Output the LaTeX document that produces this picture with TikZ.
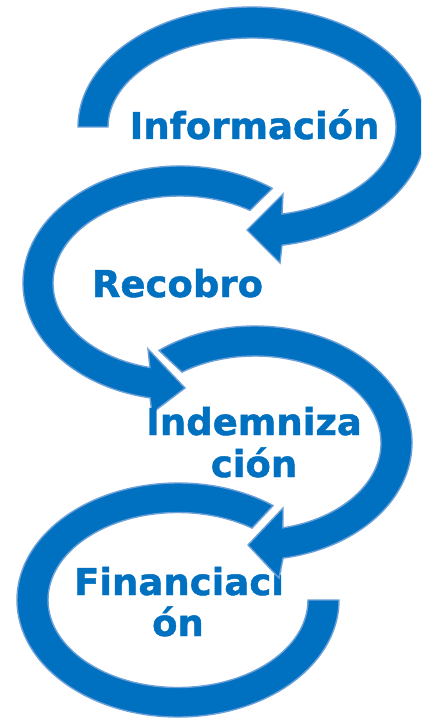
\documentclass[tikz,border=0pt]{standalone}
\usepackage{fontspec}
\setmainfont{DejaVu Sans}
\newfontfamily\lblfont{DejaVu Sans Bold}[FakeBold=1.2]
\usetikzlibrary{calc}
\definecolor{ringblue}{HTML}{0070C0}
\definecolor{ringedge}{HTML}{6A9FD8}
\tikzset{
  ring/.style={fill=ringblue, draw=ringedge, line width=1.4pt, line join=miter},
  lbl/.style={text=ringblue, font=\lblfont\fontsize{37}{42}\selectfont, inner sep=0pt, anchor=base}
}
\begin{document}
\begin{tikzpicture}[x=1pt,y=1pt]
\useasboundingbox (0,0) rectangle (421,-719);
\clip (0,0) rectangle (421,-719);
\fill[white] (0,0) rectangle (421,-719);

% centres of the four rings
\coordinate (c1) at (252,-127);
\coordinate (c2) at (180,-283);
\coordinate (c3) at (255,-443);
\coordinate (c4) at (178,-600);

% ring 4 (Financiacion) - no arrow head
\path[ring] ($(c4)+(53.8:161pt and 117pt)$)
  arc[start angle=53.8, end angle=360, x radius=161pt, y radius=117pt]
  -- ($(c4)+(0:130pt and 87.5pt)$)
  arc[start angle=360, end angle=55.3, x radius=130pt, y radius=87.5pt]
  -- cycle;
\node[lbl] (fin1) at (179,-595) {Financiaci};
\node[lbl] (fin2) at (178,-636) {ón};

% ring 3 (Indemnizacion)
\coordinate (b3o) at (279,-578);
\coordinate (t3) at (248,-545);
\coordinate (b3i) at (283,-508);
\path[ring] ($(c3)+(127.7:157pt and 117pt)$)
  arc[start angle=127.7, end angle=-79.7, x radius=157pt, y radius=117pt]
  -- (b3o) -- (t3) -- (b3i)
  -- ($(c3)+(-77.2:126pt and 87pt)$)
  arc[start angle=-77.2, end angle=125.4, x radius=126pt, y radius=87pt]
  -- cycle;

% ring 2 (Recobro)
\coordinate (b2o) at (152,-413);
\coordinate (t2) at (185,-388);
\coordinate (b2i) at (148,-349);
\path[ring] ($(c2)+(54:157pt and 117pt)$)
  arc[start angle=54, end angle=259, x radius=157pt, y radius=117pt]
  -- (b2o) -- (t2) -- (b2i)
  -- ($(c2)+(256.3:127pt and 87pt)$)
  arc[start angle=256.3, end angle=56.6, x radius=127pt, y radius=87pt]
  -- cycle;

% ring 1 (Informacion)
\coordinate (b1o) at (280,-263);
\coordinate (t1) at (247,-230);
\coordinate (b1i) at (283,-194);
\path[ring] ($(c1)+(180:174pt and 120pt)$)
  arc[start angle=180, end angle=-80.07, x radius=174pt, y radius=120pt]
  -- (b1o) -- (t1) -- (b1i)
  -- ($(c1)+(-77.98:144pt and 89pt)$)
  arc[start angle=-77.98, end angle=180, x radius=144pt, y radius=89pt]
  -- cycle;

% labels
\node[lbl] (inf) at (254.5,-139) {Información};
\node[lbl] (rec) at (177.5,-297) {Recobro};
\node[lbl] (ind1) at (254,-435) {Indemniza};
\node[lbl] (ind2) at (254,-477) {ción};
\end{tikzpicture}
\end{document}
